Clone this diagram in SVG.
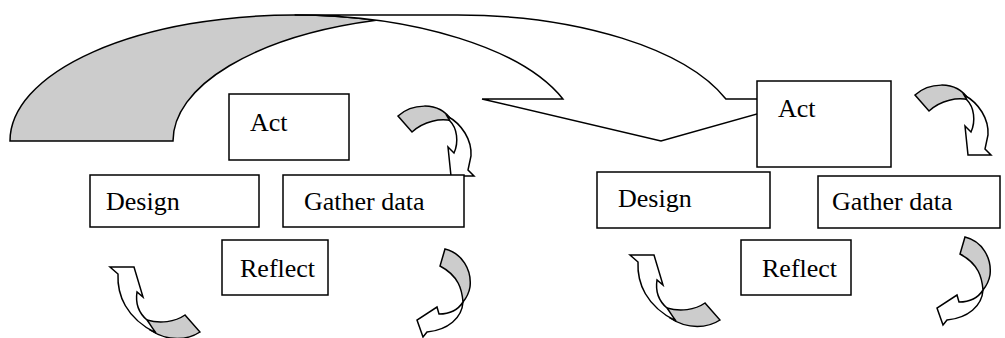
<svg xmlns="http://www.w3.org/2000/svg" width="1005" height="338" viewBox="0 0 1005 338">
<style>
.box{fill:#fff;stroke:#000;stroke-width:1.5}
.sh{fill:#cccccc;stroke:#000;stroke-width:1.5;stroke-linejoin:miter}
.fr{fill:#fff;stroke:#000;stroke-width:1.5;stroke-linejoin:miter}
text{font-family:"Liberation Serif","Times New Roman",serif;font-size:26px;fill:#000}
</style>
<defs>
<g id="arrA">
<path class="sh" d="M398,116 C410,105 438,99 452,121 C441,118 424,121 412,132 Z"/>
<path class="fr" d="M447,116 C462,124 472,140 471,156 L468,170 L474,176 L451,176 L448,147 L454,153 C459,142 457,128 450,121 Z"/>
</g>
<g id="arrB">
<path class="sh" d="M147,320 C160,324 175,322 185,315 L200,332 C188,340 168,342 150,330 Z"/>
<path class="fr" d="M147,320 C140,314 135,305 137,292 L143,297 L134,267 L110,267 L118,274 C117,295 126,318 156,333 C152,328 150,324 147,320 Z"/>
</g>
<g id="arrC">
<path class="sh" d="M445,249 C462,253 472,270 470,287 C469,293 467,297 463,302 C462,290 459,276 440,266 Z"/>
<path class="fr" d="M463,302 C462,318 448,330 427,332 L423,337 L417,320 L437,307 L439,314 C450,314 458,310 463,302 Z"/>
</g>
</defs>
<g id="connectors">
<g id="big-arrow">
<path class="sh" d="M10,141 A284.6,126 0 0 1 294.6,15 A284.6,126 0 0 1 376.1,20.3 A284.6,126 0 0 0 173,141 Z"/>
<path class="fr" d="M294.6,15 L457.6,15 A284.6,126 0 0 1 725.9,99 L810,99 L661,141 L482,99 L562.9,99 A284.6,126 0 0 0 294.6,15 Z"/>
</g>
<use href="#arrA"/>
<use href="#arrB"/>
<use href="#arrC"/>
<use href="#arrA" transform="translate(517,-21)"/>
<use href="#arrB" transform="translate(520,-12)"/>
<use href="#arrC" transform="translate(520,-12)"/>
</g>
<g id="act-1"><rect class="box" x="229" y="94" width="120" height="66"/><text x="250" y="131">Act</text></g>
<g id="design-1"><rect class="box" x="90" y="175" width="169" height="52"/><text x="106" y="210">Design</text></g>
<g id="gather-1"><rect class="box" x="283" y="175" width="181" height="52"/><text x="304" y="210">Gather data</text></g>
<g id="reflect-1"><rect class="box" x="222" y="240" width="106" height="55"/><text x="240" y="277">Reflect</text></g>
<g id="act-2"><rect class="box" x="757" y="81" width="134" height="86"/><text x="778" y="117">Act</text></g>
<g id="design-2"><rect class="box" x="597" y="172" width="173" height="56"/><text x="618" y="207">Design</text></g>
<g id="gather-2"><rect class="box" x="818" y="176" width="182" height="52"/><text x="832" y="210">Gather data</text></g>
<g id="reflect-2"><rect class="box" x="741" y="240" width="110" height="55"/><text x="762" y="277">Reflect</text></g>
</svg>
